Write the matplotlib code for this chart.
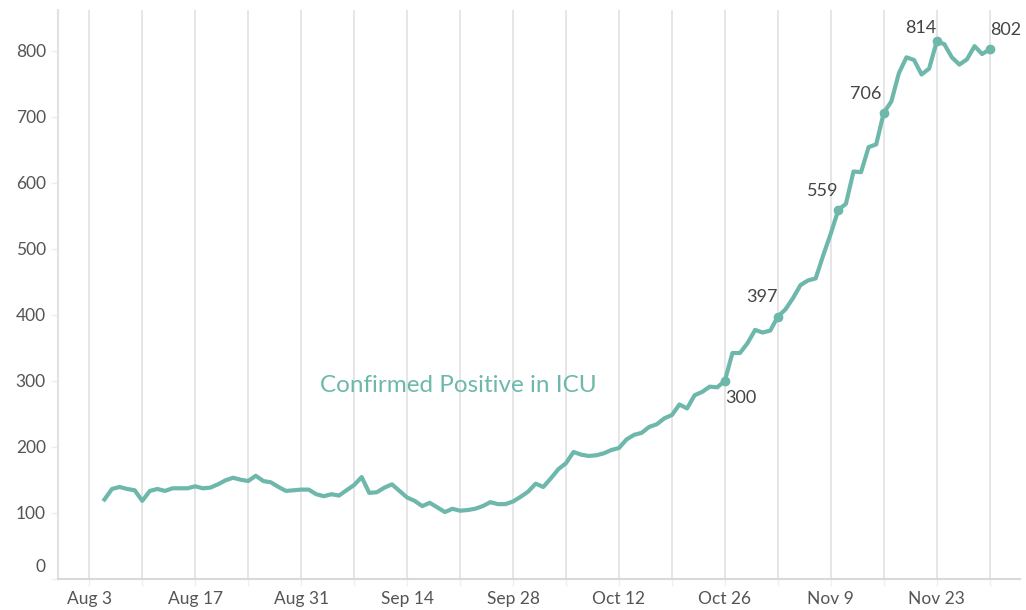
#!/usr/bin/env python

# import the packages
import numpy as np
import pandas as pd
import matplotlib
matplotlib.use('Agg')
import matplotlib.pyplot as plt
import matplotlib.dates as mdates
from matplotlib.ticker import FixedLocator, FuncFormatter
from matplotlib.transforms import ScaledTranslation

# daily ICU counts, Aug 5 .. Nov 30
start_date = '2020-08-05'
icu = [120, 136, 139, 136, 134, 118, 133, 136, 133, 137, 137, 137, 140, 137,
       138, 143, 149, 153, 150, 148, 156, 148, 146, 139, 133, 134, 135, 135,
       128, 125, 128, 126, 134, 142, 154, 130, 131, 138, 143, 133, 123, 118,
       110, 115, 108, 101, 106, 103, 104, 106, 110, 116, 113, 113, 117, 124,
       132, 144, 139, 152, 166, 175, 192, 188, 186, 187, 190, 195, 198, 211,
       218, 221, 230, 234, 243, 248, 264, 258, 278, 283, 291, 290, 300, 342,
       342, 357, 377, 373, 376, 397, 408, 425, 445, 452, 455, 490, 523, 559,
       568, 617, 616, 654, 658, 706, 723, 766, 790, 786, 764, 773, 814, 810,
       790, 779, 787, 807, 795, 802]

# labelled points
label_dates = ['2020-10-26', '2020-11-02', '2020-11-10', '2020-11-16', '2020-11-23', '2020-11-30']
label_offsets = [(0, -17, 'left'), (0, 20, 'right'), (0, 19, 'right'), (-2, 19, 'right'), (0, 13, 'right'), (0, 19, 'left')]

series_name = 'Confirmed Positive in ICU'
y_ticks = [0, 100, 200, 300, 400, 500, 600, 700, 800]
week_ticks = pd.date_range('2020-08-03', '2020-11-30', freq='7D')

teal = '#6db8ab'
text_gray = '#555555'
grid_gray = '#e2e2e2'

plt.rcParams['font.family'] = ['Lato', 'DejaVu Sans']

dates = pd.date_range(start_date, periods=len(icu), freq='D')
s = pd.Series(icu, index=dates)

fig = plt.figure(figsize=(10.26, 6.10), dpi=100)
ax = fig.add_axes([0.0568, 0.0513, 0.9373, 0.9323])

ax.plot(dates, icu, color=teal, linewidth=3.0, solid_joinstyle='round', zorder=3)

for d, (dx, dy, ha) in zip(label_dates, label_offsets):
    v = s[pd.Timestamp(d)]
    ax.plot(pd.Timestamp(d), v, 'o', color=teal, markersize=6, zorder=4)
    ax.annotate(f'{v}', xy=(pd.Timestamp(d), v), xytext=(dx, dy), textcoords='offset pixels',
                ha=ha, va='center', fontsize=13, color='#444444', zorder=5)

ax.text(0.4156, 0.339, series_name, transform=ax.transAxes, ha='center', va='center',
        fontsize=17.5, color=teal)

# axes limits
x0 = pd.Timestamp('2020-08-03') - pd.Timedelta(days=4.1)
x1 = pd.Timestamp('2020-08-03') + pd.Timedelta(days=123.0)
ax.set_xlim(x0, x1)
ax.set_ylim(0, 861.7)

# vertical weekly grid, labels every two weeks
ax.xaxis.set_major_locator(FixedLocator(mdates.date2num(week_ticks)))
week_labels = [t.strftime('%b ') + str(t.day) if i % 2 == 0 else '' for i, t in enumerate(week_ticks)]
ax.xaxis.set_major_formatter(FuncFormatter(lambda v, p: week_labels[p] if p is not None and p < len(week_labels) else ''))
ax.grid(axis='x', color=grid_gray, linewidth=1.2, zorder=0)
ax.tick_params(axis='x', length=5, width=1.0, color='#f0f0f0', pad=4, labelsize=12.5, labelcolor=text_gray)

ax.yaxis.set_major_locator(FixedLocator(y_ticks))
ax.set_yticklabels([str(v) for v in y_ticks])
ax.tick_params(axis='y', length=5, width=1.0, color='#eeeeee', pad=4, labelsize=12.5, labelcolor=text_gray)

# Tableau pushes the zero label up inside the axis
zero = ax.yaxis.get_major_ticks()[0].label1
zero.set_transform(zero.get_transform() + ScaledTranslation(0, 13 / 100, fig.dpi_scale_trans))

for side in ['top', 'right']:
    ax.spines[side].set_visible(False)
ax.spines['left'].set_color(grid_gray)
ax.spines['left'].set_linewidth(1.5)
ax.spines['bottom'].set_color('#d9d9d9')
ax.spines['bottom'].set_linewidth(1.5)

fig.savefig('out.png', dpi=100)
